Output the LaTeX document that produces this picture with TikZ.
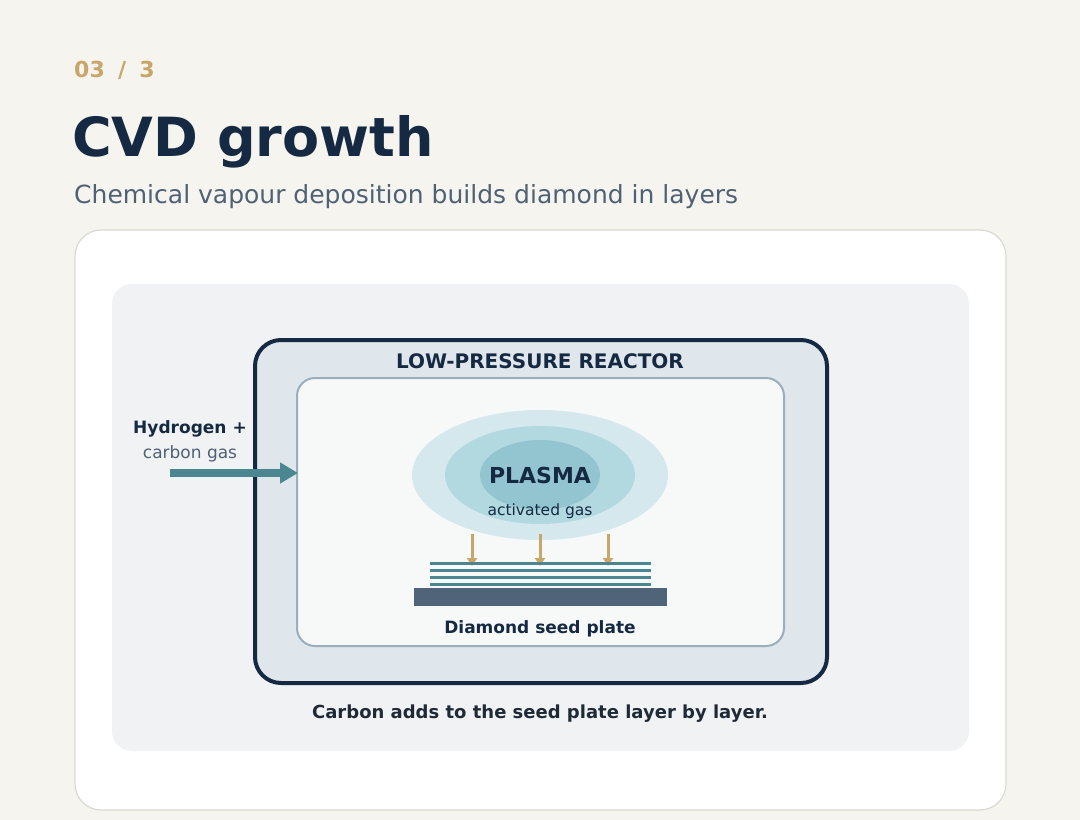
\documentclass[tikz,border=0pt]{standalone}
\usepackage{fontspec}
\setmainfont{DejaVu Sans}
\usetikzlibrary{positioning,arrows.meta}
\definecolor{paper}{HTML}{F5F4EF}
\definecolor{gold}{HTML}{C8A66A}
\definecolor{navy}{HTML}{152A42}
\definecolor{slate}{HTML}{4F6175}
\definecolor{cardline}{HTML}{DDD9CF}
\definecolor{panel}{HTML}{F1F2F4}
\definecolor{reactor}{HTML}{DFE6EC}
\definecolor{chamber}{HTML}{F7F9F9}
\definecolor{chamberline}{HTML}{9AAEBB}
\definecolor{glowA}{HTML}{D5E8EE}
\definecolor{glowB}{HTML}{B2D8E0}
\definecolor{glowC}{HTML}{93C5D0}
\definecolor{teal}{HTML}{4A8790}
\definecolor{plate}{HTML}{4F6478}
\definecolor{ink}{HTML}{1F2A37}
\tikzset{
  txt/.style={inner sep=0pt,anchor=base},
  box/.style={rounded corners=#1},
  layer/.style={teal,line width=3pt},
  drop/.style={gold,line width=3pt,-{Triangle[length=8pt,width=10pt]}}
}
\begin{document}
\begin{tikzpicture}[x=1pt,y=-1pt]
\fill[paper] (0,0) rectangle (1080,820);
\useasboundingbox (0,0) rectangle (1080,820);
% heading
\node[txt,anchor=base west,text=gold] (step) at (74,77) {\fontsize{22}{26}\selectfont\bfseries 03\hspace{0.6em}/\hspace{0.6em}3};
\node[txt,anchor=base west,text=navy] (title) at (72,156) {\fontsize{54}{60}\selectfont\bfseries CVD growth};
\node[txt,anchor=base west,text=slate] (sub) at (74,203) {\fontsize{25}{30}\selectfont Chemical vapour deposition builds diamond in layers};
% card and panel
\draw[box=26pt,fill=white,draw=cardline,line width=1.2pt] (75,230) rectangle (1006,810);
\fill[box=20pt,panel] (112,284) rectangle (969,751);
% reactor
\draw[box=26pt,fill=reactor,draw=navy,line width=4pt] (255,340) rectangle (827,683);
\node[txt,text=navy] (rlabel) at (540,368) {\fontsize{20}{24}\selectfont\bfseries LOW-PRESSURE REACTOR};
\draw[box=18pt,fill=chamber,draw=chamberline,line width=2pt] (297,378) rectangle (784,646);
\coordinate (inlet) at (298,473);
% plasma
\fill[glowA] (540,475) ellipse [x radius=128,y radius=-65];
\fill[glowB] (540,475) ellipse [x radius=95,y radius=-49];
\fill[glowC] (540,475) ellipse [x radius=60,y radius=-35];
\node[txt,text=navy] (plasma) at (540,483) {\fontsize{22}{26}\selectfont\bfseries PLASMA};
\node[txt,text=navy] (act) at (540,515) {\fontsize{15.5}{18}\selectfont activated gas};
% deposition
\foreach \x in {472,540,608}
  \draw[drop] (\x,534) -- (\x,566);
\foreach \y in {563,570,577,584}
  \draw[layer] (430,\y) -- (651,\y);
\fill[plate] (414,588) rectangle (667,606);
\node[txt,text=navy] (seed) at (540,633) {\fontsize{17}{20}\selectfont\bfseries Diamond seed plate};
% gas feed
\node[txt,text=navy] (gas) at (190,433) {\fontsize{17}{20}\selectfont\bfseries Hydrogen +};
\node[txt,text=slate] (gas2) at (190,458) {\fontsize{17}{20}\selectfont carbon gas};
\coordinate (feed) at (170,473);
\draw[teal,line width=8pt,-{Triangle[length=18pt,width=20pt]}] (feed) -- (inlet);
% caption
\node[txt,text=ink] (cap) at (540,718) {\fontsize{18}{22}\selectfont\bfseries Carbon adds to the seed plate layer by layer.};
\end{tikzpicture}
\end{document}
